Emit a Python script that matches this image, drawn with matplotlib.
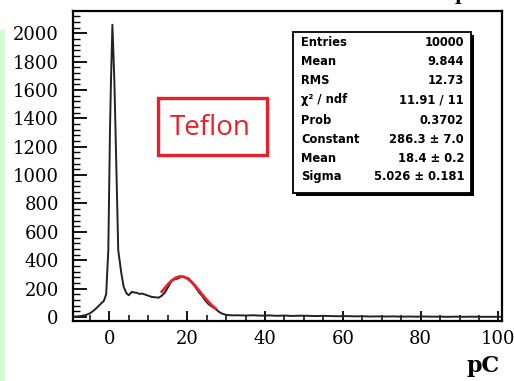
import matplotlib
matplotlib.use("Agg")
import matplotlib.pyplot as plt
from matplotlib.patches import Rectangle
from matplotlib.ticker import MultipleLocator

# ---------------- data ----------------
hist_x = [-9.5, -8, -7, -6, -5, -4, -3, -2, -1.4, -0.8, -0.25, 0.18, 0.44, 0.8,
          1.3, 1.6, 2.3, 3.1, 3.7, 4.4, 5.0, 5.8, 6.5, 7.1, 7.8, 8.4, 9.5, 10.9,
          12.0, 12.7, 13.5, 14.3, 15.2, 16.1, 16.9, 17.7, 18.5, 19.1, 19.8, 20.4,
          21.2, 22.1, 23.0, 23.8, 24.6, 25.5, 26.4, 27.2, 28.0, 28.9, 30.0, 31.5,
          33, 35, 37, 39, 41, 43, 45, 47, 49, 51, 53, 55, 57, 59, 61, 63, 65, 67,
          69, 71, 73, 75, 77, 79, 81, 83, 85, 87, 89, 91, 93, 95, 97, 99, 100.5]
hist_y = [2, 4, 8, 14, 25, 45, 70, 98, 113, 160, 470, 1317, 1670, 2060,
          1670, 1317, 470, 307, 212, 168, 153, 177, 172, 170, 162, 165, 155, 141,
          138, 136, 150, 172, 215, 259, 266, 272, 283, 283, 277, 271,
          245, 212, 175, 150, 118, 90, 72, 59, 40, 24, 15, 11,
          12, 10, 12, 9, 11, 8, 10, 7, 9, 8, 6, 8, 6, 5, 6, 4, 5, 3,
          4, 3, 4, 2, 3, 2, 3, 2, 2, 1, 2, 1, 2, 1, 1, 1, 1]

fit_x = [13.5, 14, 15, 16, 17, 18, 19, 20, 21, 22, 23, 24, 25, 26, 27, 27.3]
fit_y = [178, 195, 228, 255, 275, 285, 284, 272, 250, 222, 188, 154, 121, 91, 66, 60]

stat_names = ["Entries", "Mean", "RMS", "χ² / ndf", "Prob", "Constant", "Mean", "Sigma"]
stat_values = ["10000", "9.844", "12.73", "11.91 / 11", "0.3702",
               "286.3 ± 7.0", "18.4 ± 0.2", "5.026 ± 0.181"]

x_label = "pC"
tag_text = "Teflon"

# ---------------- figure ----------------
W, H = 514, 381
fig = plt.figure(figsize=(W / 100, H / 100), dpi=100)


def fx(px):
    return px / W


def fy(py):
    return 1 - py / H


# light green strip at left edge
fig.patches.append(Rectangle((fx(0), fy(381)), fx(5), fy(29) - fy(381),
                             transform=fig.transFigure, facecolor="#d6fcd6",
                             edgecolor="none", zorder=0))

ax = fig.add_axes([fx(72.7), fy(320.5), fx(502) - fx(72.7), fy(11) - fy(320.5)])
ax.set_xlim(-9.4, 100.9)
ax.set_ylim(-25, 2157)

ax.plot(hist_x, hist_y, color="#222222", lw=1.4, zorder=3)
ax.plot(fit_x, fit_y, color="#e8202a", lw=2.0, zorder=4)

for s in ax.spines.values():
    s.set_linewidth(1.6)
    s.set_color("black")

ax.xaxis.set_major_locator(MultipleLocator(20))
ax.xaxis.set_minor_locator(MultipleLocator(5))
ax.yaxis.set_major_locator(MultipleLocator(200))
ax.yaxis.set_minor_locator(MultipleLocator(40))
ax.tick_params(axis="x", which="major", direction="in", length=7.5, width=1.3,
               pad=7, labelsize=13)
ax.tick_params(axis="x", which="minor", direction="in", length=4, width=1.1)
ax.tick_params(axis="y", which="major", direction="in", length=10, width=1.3,
               pad=10, labelsize=13)
ax.tick_params(axis="y", which="minor", direction="in", length=5, width=1.0)
for lab in ax.get_xticklabels() + ax.get_yticklabels():
    lab.set_family("DejaVu Serif")

fig.text(fx(500), fy(372), x_label, ha="right", va="baseline",
         family="DejaVu Serif", fontweight="bold", fontsize=16)

# cut-off title glyph at the very top
fig.text(fx(455), fy(0.5), "p", ha="left", va="baseline",
         family="DejaVu Serif", fontweight="bold", fontsize=13)

# Teflon tag
fig.patches.append(Rectangle((fx(158), fy(155)), fx(267) - fx(158), fy(98) - fy(155),
                             transform=fig.transFigure, facecolor="white",
                             edgecolor="#e8202a", lw=2.4, zorder=5))
fig.text(fx(210), fy(128), tag_text, ha="center", va="center", color="#e8202a",
         family="Open Sans", fontsize=20, zorder=6)

# stats box with shadow
bx0, by0, bx1, by1 = 292.7, 31.7, 471, 193
fig.patches.append(Rectangle((fx(bx0 + 3), fy(by1 + 3)), fx(bx1) - fx(bx0), fy(by0) - fy(by1),
                             transform=fig.transFigure, facecolor="black",
                             edgecolor="none", zorder=5))
fig.patches.append(Rectangle((fx(bx0), fy(by1)), fx(bx1) - fx(bx0), fy(by0) - fy(by1),
                             transform=fig.transFigure, facecolor="white",
                             edgecolor="black", lw=1.3, zorder=6))
row_y = [42.7, 61.7, 81, 100, 120, 139.3, 158.3, 176.7]
for name, val, ry in zip(stat_names, stat_values, row_y):
    fig.text(fx(301), fy(ry), name, ha="left", va="center", fontsize=8.3,
             fontweight="bold", family="DejaVu Sans", zorder=7)
    fig.text(fx(464), fy(ry), val, ha="right", va="center", fontsize=8.3,
             fontweight="bold", family="DejaVu Sans", zorder=7)

fig.savefig("out.png", dpi=100)
